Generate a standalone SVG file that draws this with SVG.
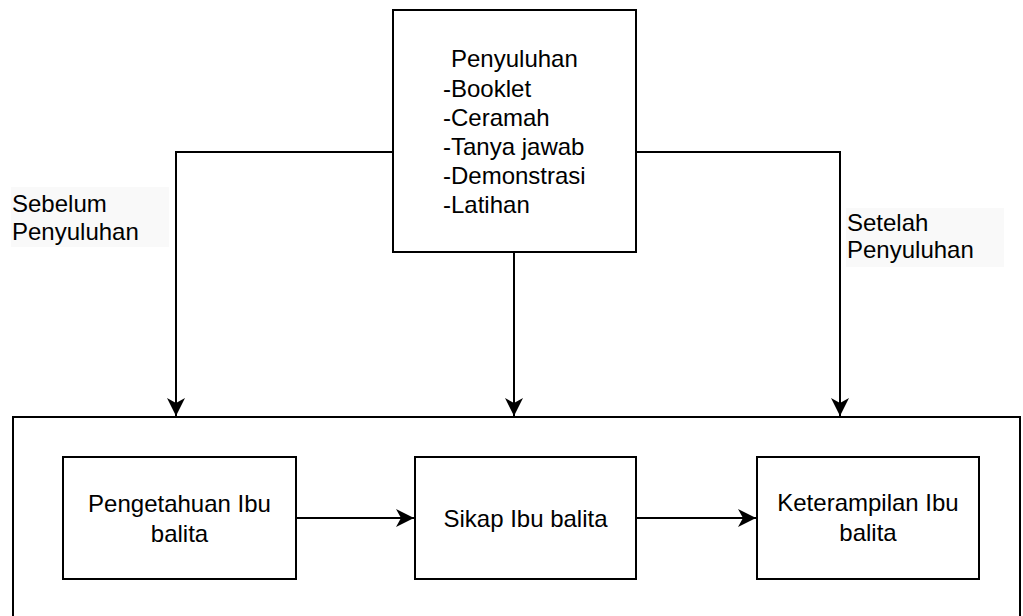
<svg xmlns="http://www.w3.org/2000/svg" width="1023" height="616" viewBox="0 0 1023 616">
<defs>
<style>
.box{fill:#fff;stroke:#000;stroke-width:2}
.ln{fill:none;stroke:#000;stroke-width:2}
.t{font-family:"Liberation Sans",Arial,sans-serif;font-size:24px;fill:#000}
.c{text-anchor:middle}
.lbg{fill:#f9f9f9}
</style>
<marker id="ah" markerUnits="userSpaceOnUse" markerWidth="22" markerHeight="22" viewBox="-20 -11 22 22" refX="0" refY="0" orient="auto">
<path d="M0,0 L-18,-9 L-13,0 L-18,9 Z" fill="#000"/>
</marker>
</defs>
<rect width="1023" height="616" fill="#fff"/>
<g id="outer">
<rect class="box" x="13" y="417" width="1007" height="220"/>
</g>
<g id="penyuluhan">
<rect class="box" x="393" y="10" width="243" height="242"/>
<text class="t" x="451" y="67">Penyuluhan</text>
<text class="t" x="443" y="97">-Booklet</text>
<text class="t" x="443" y="126">-Ceramah</text>
<text class="t" x="443" y="155">-Tanya jawab</text>
<text class="t" x="443" y="184">-Demonstrasi</text>
<text class="t" x="443" y="213">-Latihan</text>
</g>
<g id="connectors">
<path class="ln" d="M393,152 H176 V416" marker-end="url(#ah)"/>
<path class="ln" d="M514,252 V416" marker-end="url(#ah)"/>
<path class="ln" d="M636,152 H840 V416" marker-end="url(#ah)"/>
<path class="ln" d="M296,518 H414" marker-end="url(#ah)"/>
<path class="ln" d="M636,518 H756" marker-end="url(#ah)"/>
</g>
<g id="label-sebelum">
<rect class="lbg" x="11" y="187" width="158" height="60"/>
<text class="t" x="12" y="212">Sebelum</text>
<text class="t" x="12" y="240">Penyuluhan</text>
</g>
<g id="label-setelah">
<rect class="lbg" x="846" y="208" width="158" height="59"/>
<text class="t" x="847" y="231">Setelah</text>
<text class="t" x="847" y="258">Penyuluhan</text>
</g>
<g id="pengetahuan">
<rect class="box" x="63" y="457" width="233" height="122"/>
<text class="t c" x="179.5" y="512">Pengetahuan Ibu</text>
<text class="t c" x="179.5" y="542">balita</text>
</g>
<g id="sikap">
<rect class="box" x="415" y="457" width="221" height="122"/>
<text class="t c" x="525.5" y="527">Sikap Ibu balita</text>
</g>
<g id="keterampilan">
<rect class="box" x="757" y="457" width="222" height="122"/>
<text class="t c" x="868" y="511">Keterampilan Ibu</text>
<text class="t c" x="868" y="541">balita</text>
</g>
</svg>
